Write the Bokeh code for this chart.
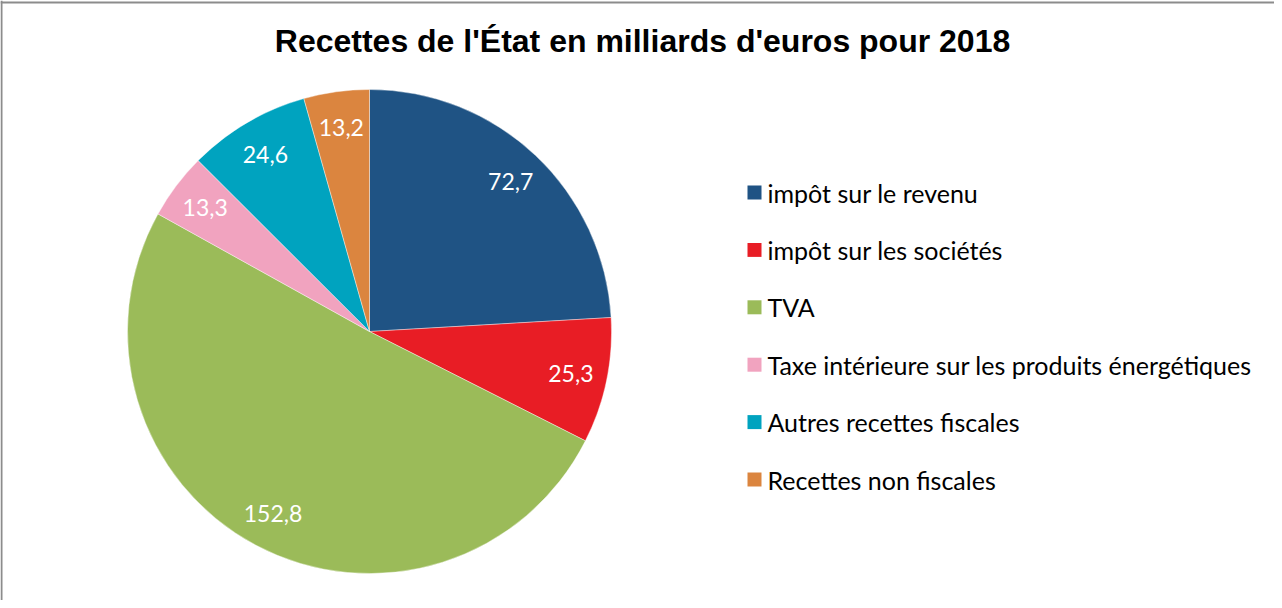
import math
from bokeh.plotting import figure
from bokeh.models import Range1d, Span, ColumnDataSource
from bokeh.core.properties import value
from bokeh.embed import file_html
from bokeh.resources import INLINE

title = "Recettes de l'État en milliards d'euros pour 2018"
categories = [
    "impôt sur le revenu",
    "impôt sur les sociétés",
    "TVA",
    "Taxe intérieure sur les produits énergétiques",
    "Autres recettes fiscales",
    "Recettes non fiscales",
]
values = [72.7, 25.3, 152.8, 13.3, 24.6, 13.2]
colors = ["#1F5384", "#E81D25", "#9BBB59", "#F1A3BF", "#00A3BF", "#DB853F"]

W, H = 1274, 600
p = figure(width=W, height=H, output_backend="svg", toolbar_location=None,
           x_range=Range1d(0, W), y_range=Range1d(0, H), min_border=0)
p.axis.visible = False
p.grid.visible = False
p.outline_line_color = None
p.background_fill_color = "white"
p.border_fill_color = "white"

# chart border (top and left visible in window)
p.add_layout(Span(location=H - 2, dimension="width", line_color="#8C8C8C", line_width=2))
p.add_layout(Span(location=1, dimension="height", line_color="#8C8C8C", line_width=2))

cx, cy, r = 369, H - 331, 242
total = sum(values)
starts, ends, lx, ly, labels = [], [], [], [], []
c = 0.0
for v in values:
    c0, c1 = c / total, (c + v) / total
    starts.append(math.pi / 2 - 2 * math.pi * c1)
    ends.append(math.pi / 2 - 2 * math.pi * c0)
    mid = math.pi / 2 - 2 * math.pi * (c0 + c1) / 2
    lx.append(cx + 0.85 * r * math.cos(mid))
    ly.append(cy + 0.85 * r * math.sin(mid))
    labels.append(f"{v:.1f}".replace(".", ","))
    c += v

src = ColumnDataSource(dict(start=starts, end=ends, color=colors, cat=categories,
                            lx=lx, ly=ly, label=labels))
p.wedge(x=cx, y=cy, radius=r, start_angle="start", end_angle="end",
        fill_color="color", line_color="white", line_width=0.4, source=src)
p.text(x="lx", y="ly", text="label", source=src, text_color="white",
       text_font=value("Lato"), text_font_size="23px",
       text_align="center", text_baseline="middle")

# title
p.text(x=[W / 2 + 5], y=[H - 40], text=[title], text_font=value("Liberation Sans"),
       text_font_style="bold", text_font_size="32px", text_color="black",
       text_align="center", text_baseline="middle")

# legend
lgx = 754
ry = [H - (192 + i * 57.4) for i in range(len(categories))]
p.rect(x=[lgx] * len(categories), y=ry, width=14, height=14, width_units="screen",
       height_units="screen", fill_color=colors, line_color=None)
p.text(x=[lgx + 13] * len(categories), y=ry, text=categories, text_font=value("Lato"),
       text_font_size="25px", text_color="black", text_align="left",
       text_baseline="middle")

open("out.html", "w").write(file_html(p, INLINE))
